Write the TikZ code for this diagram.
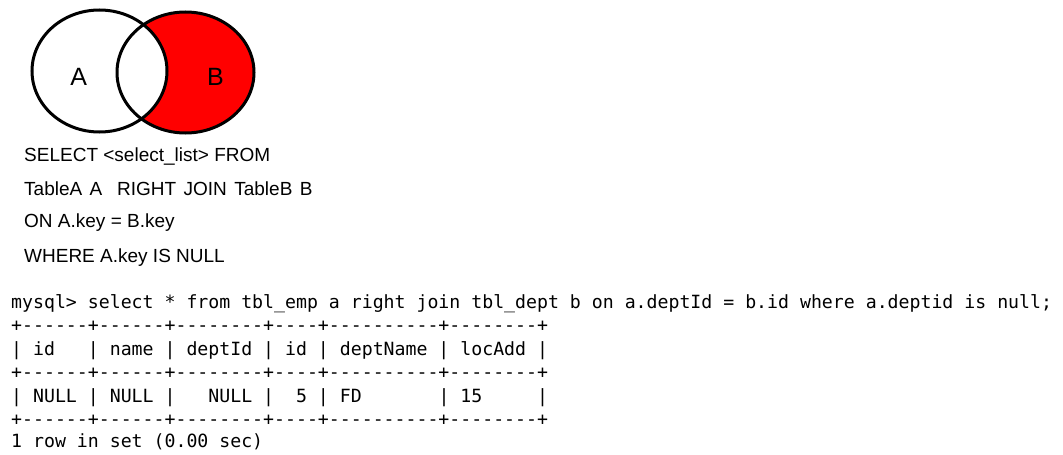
\documentclass[tikz,border=0pt]{standalone}
\usepackage{fontspec}
\setmainfont{Liberation Sans}
\setmonofont{DejaVu Sans Mono}
\begin{document}
\begin{tikzpicture}[x=1pt,y=-1pt,
  venn/.style={draw=black,line width=3pt},
  setlabel/.style={anchor=base,inner sep=0pt,font=\fontsize{25}{30}\selectfont},
  sqltext/.style={anchor=base west,inner sep=0pt,font=\fontsize{19}{23}\selectfont},
  term/.style={anchor=base west,inner sep=0pt,font=\ttfamily\fontsize{18.2}{22}\selectfont}]
\useasboundingbox[fill=white] (0,0) rectangle (1063,455);
% Venn diagram
\begin{scope}
  \clip (185.5,72.5) ellipse [x radius=68.5, y radius=60.5];
  \fill[red] (185.5,72.5) ellipse [x radius=68.5, y radius=60.5];
  \fill[white] (99.5,71) ellipse [x radius=67.5, y radius=61];
\end{scope}
\draw[venn] (99.5,71) ellipse [x radius=67.5, y radius=61];
\draw[venn] (185.5,72.5) ellipse [x radius=68.5, y radius=60.5];
\node[setlabel] (la) at (78.7,85) {A};
\node[setlabel] (lb) at (215.5,85) {B};
% SQL template
\node[sqltext] (s1) at (24,161) {SELECT <select\_list> FROM};
\node[sqltext] (s2) at (24,195) {\spaceskip=7.4pt TableA A\ \ RIGHT JOIN TableB B};
\node[sqltext] (s3) at (24,227) {ON A.key = B.key};
\node[sqltext] (s4) at (24,262) {WHERE A.key IS NULL};
% terminal output
\node[term] (t1) at (11,308) {mysql> select * from tbl\_emp a right join tbl\_dept b on a.deptId = b.id where a.deptid is null;};
\node[term] (t2) at (11,331.5) {+------+------+--------+----+----------+--------+};
\node[term] (t3) at (11,355) {|~id~~~|~name~|~deptId~|~id~|~deptName~|~locAdd~|};
\node[term] (t4) at (11,378.5) {+------+------+--------+----+----------+--------+};
\node[term] (t5) at (11,402) {|~NULL~|~NULL~|~~~NULL~|~~5~|~FD~~~~~~~|~15~~~~~|};
\node[term] (t6) at (11,425.5) {+------+------+--------+----+----------+--------+};
\node[term] (t7) at (11,447) {1 row in set (0.00 sec)};
\end{tikzpicture}
\end{document}
